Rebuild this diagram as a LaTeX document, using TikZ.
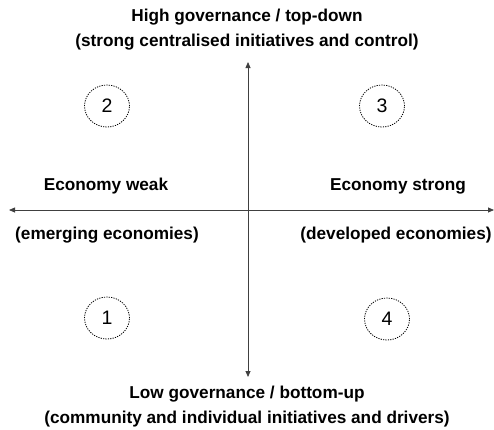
\documentclass[tikz,border=0pt]{standalone}
\usepackage{fontspec}
\setmainfont{Liberation Sans}
\usetikzlibrary{arrows.meta,shapes.geometric}
\begin{document}
\begin{tikzpicture}[x=1pt,y=-1pt,
  axis/.style={draw=black!75, line width=0.8pt, {Triangle[length=6pt,width=5pt]}-{Triangle[length=6pt,width=5pt]}},
  lbl/.style={font=\fontsize{17.2}{25}\selectfont\bfseries, align=center, inner sep=0pt},
  quad/.style={draw=black, ellipse, minimum width=45pt, minimum height=42pt, inner sep=0pt, line width=0.8pt, dash pattern=on 1.2pt off 1.2pt, font=\fontsize{19.5}{19.5}\selectfont}]
\useasboundingbox (0,0) rectangle (494,429);
\node[lbl] (top) at (247,30) {High governance / top-down\\(strong centralised initiatives and control)};
\node[lbl] (bot) at (247,407) {Low governance / bottom-up\\(community and individual initiatives and drivers)};
\coordinate (vt) at (248,62);
\coordinate (vb) at (248,377);
\coordinate (hl) at (9,210);
\coordinate (hr) at (494,210);
\draw[axis] (vt) -- (vb);
\draw[axis] (hl) -- (hr);
\node[lbl] (ew) at (106,186) {Economy weak};
\node[lbl] (ee) at (107,235) {(emerging economies)};
\node[lbl] (es) at (398,186) {Economy strong};
\node[lbl] (de) at (396,235) {(developed economies)};
\node[quad] (q2) at (107,106) {2};
\node[quad] (q3) at (382,106) {3};
\node[quad] (q1) at (107,318) {1};
\node[quad] (q4) at (387,319) {4};
\end{tikzpicture}
\end{document}
